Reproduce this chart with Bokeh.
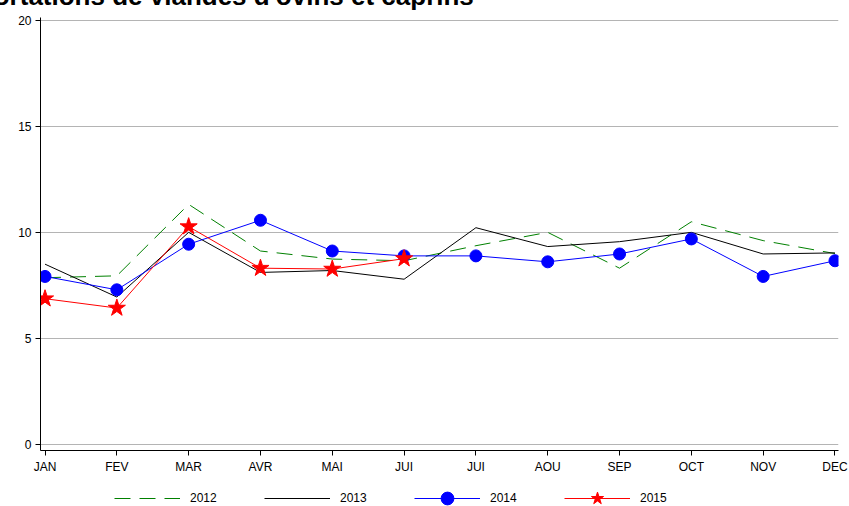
from bokeh.plotting import figure
from bokeh.layouts import column
from bokeh.models import Range1d, FixedTicker, Legend, LegendItem, Title
from bokeh.embed import file_html
from bokeh.resources import INLINE

TITLE = "Importations de viandes d'ovins et caprins"
months = ["JAN", "FEV", "MAR", "AVR", "MAI", "JUI", "JUI", "AOU", "SEP", "OCT", "NOV", "DEC"]
x_all = list(range(12))
y2012 = [7.89, 7.98, 11.35, 9.15, 8.77, 8.69, 9.40, 10.03, 8.34, 10.53, 9.64, 9.03]
y2013 = [8.53, 6.98, 10.03, 8.14, 8.23, 7.82, 10.25, 9.36, 9.59, 10.03, 9.01, 9.06]
y2014 = [7.95, 7.32, 9.47, 10.60, 9.15, 8.92, 8.92, 8.64, 9.01, 9.72, 7.95, 8.69]
y2015 = [6.90, 6.46, 10.30, 8.34, 8.30, 8.79]
y_ticks = [0, 5, 10, 15, 20]
labels = ["2012", "2013", "2014", "2015"]

FONT = "Liberation Sans"

STYLE = {
    "2012": dict(line=dict(line_color="#008000", line_width=1, line_dash="16 9"), marker=None),
    "2013": dict(line=dict(line_color="black", line_width=1), marker=None),
    "2014": dict(line=dict(line_color="blue", line_width=1),
                 marker=dict(marker="circle", size=12, fill_color="blue", line_color="blue")),
    "2015": dict(line=dict(line_color="red", line_width=1),
                 marker=dict(marker="star", size=18, fill_color="red", line_color="red")),
}
SERIES = {"2012": y2012, "2013": y2013, "2014": y2014, "2015": y2015}


def draw_series(fig):
    rends = {}
    for lab in labels:
        ys = SERIES[lab]
        xs = x_all[:len(ys)]
        st = STYLE[lab]
        rs = [fig.line(xs, ys, **st["line"])]
        if st["marker"] is not None:
            rs.append(fig.scatter(xs, ys, **st["marker"]))
        rends[lab] = rs
    return rends


# ---------------- main chart ----------------
p = figure(width=849, height=476, output_backend="svg", toolbar_location=None,
           x_range=Range1d(-0.063, 11.049), y_range=Range1d(-0.26, 20.165),
           min_border_left=40, min_border_right=11, min_border_top=17, min_border_bottom=25)
p.outline_line_color = None
p.background_fill_color = "white"
p.border_fill_color = "white"

# title, largely above the top edge as in the reference
p.title = Title(text=TITLE, align="left", vertical_align="top", offset=-93, standoff=-73,
                text_font=FONT, text_font_size="26px", text_font_style="bold",
                text_color="black")

p.xaxis.ticker = FixedTicker(ticks=x_all)
p.xaxis.major_label_overrides = {i: m for i, m in enumerate(months)}
p.yaxis.ticker = FixedTicker(ticks=y_ticks)
for ax in (p.xaxis[0], p.yaxis[0]):
    ax.axis_line_color = "black"
    ax.axis_line_width = 1
    ax.major_tick_line_color = "black"
    ax.major_tick_out = 5
    ax.major_tick_in = 0
    ax.minor_tick_line_color = None
    ax.major_label_text_font = FONT
    ax.major_label_text_font_size = "12px"
    ax.major_label_text_color = "black"
    ax.major_label_standoff = 4
p.xgrid.grid_line_color = None
p.ygrid.grid_line_color = "#b4b4b4"
p.ygrid.grid_line_width = 1

draw_series(p)

# ---------------- legend strip ----------------
leg = figure(width=849, height=30, output_backend="svg", toolbar_location=None,
             x_range=Range1d(-100, -99), y_range=Range1d(-100, -99),
             x_axis_location=None, y_axis_location=None, min_border=0)
leg.outline_line_color = None
leg.grid.visible = False
leg.border_fill_color = "white"
leg_rends = draw_series(leg)

legend = Legend(items=[LegendItem(label=lab, renderers=leg_rends[lab]) for lab in labels],
                orientation="horizontal", location=(74, -8),
                glyph_width=66, glyph_height=32, label_height=32, label_standoff=10,
                label_width=42, spacing=32, padding=0, margin=0,
                border_line_color=None, background_fill_alpha=0,
                label_text_font=FONT, label_text_font_size="12px", label_text_color="black")
leg.add_layout(legend, "center")

layout = column(p, leg, spacing=0)
open("out.html", "w").write(file_html(layout, INLINE))
